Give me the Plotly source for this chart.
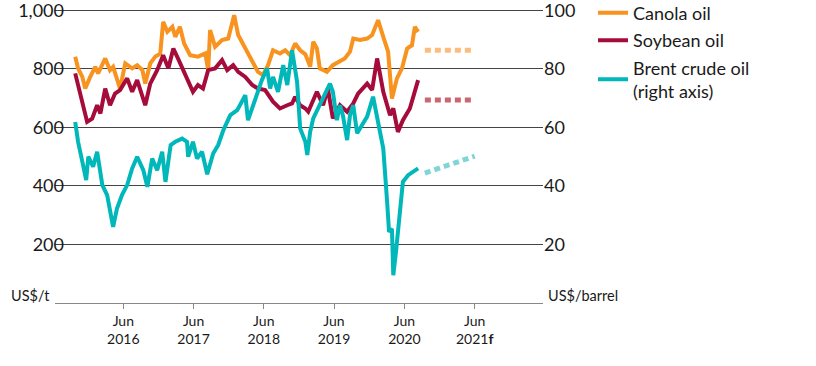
import plotly.graph_objects as go

# ---------------- data ----------------
canola_dates = ["2015-09-25", "2015-10-10", "2015-11-01", "2015-11-16", "2015-12-12", "2016-01-07",
                "2016-01-22", "2016-02-28", "2016-03-24", "2016-04-09", "2016-05-15", "2016-06-11",
                "2016-07-17", "2016-08-12", "2016-09-08", "2016-09-23", "2016-10-19", "2016-11-14",
                "2016-12-10", "2016-12-25", "2017-01-16", "2017-02-11", "2017-02-26", "2017-03-22",
                "2017-04-13", "2017-05-14", "2017-06-24", "2017-08-01",
                "2017-08-16", "2017-08-26", "2017-09-21", "2017-10-27", "2017-11-28", "2017-12-29",
                "2018-01-19", "2018-02-25", "2018-04-02", "2018-05-02", "2018-05-27", "2018-06-23",
                "2018-07-19", "2018-08-24", "2018-09-20", "2018-10-16", "2018-11-11", "2018-12-07",
                "2019-01-03", "2019-01-28", "2019-02-13", "2019-03-04", "2019-03-19", "2019-04-25",
                "2019-05-26", "2019-07-02", "2019-07-27", "2019-08-23", "2019-09-09", "2019-10-14",
                "2019-11-20", "2019-12-16", "2020-01-16", "2020-02-12", "2020-03-08", "2020-03-28",
                "2020-04-23", "2020-05-19", "2020-06-15", "2020-07-10", "2020-07-25", "2020-08-11"]
canola_vals = [842, 802, 773, 733, 773, 807,
               785, 836, 796, 807, 733, 819,
               802, 813, 796, 750, 819, 842,
               853, 961, 927, 944, 910, 944,
               887, 847, 842, 853,
               796, 933, 876, 899, 904, 984,
               916, 870, 825, 790, 779, 813,
               864, 853, 864, 847, 887, 864,
               850, 808, 893, 870, 802, 790,
               813, 825, 836, 859, 904, 899,
               904, 916, 967, 910, 859, 699,
               768, 802, 870, 881, 944, 927]

soy_dates = ["2015-09-25", "2015-10-20", "2015-11-26", "2015-12-22", "2016-01-17", "2016-02-03",
             "2016-02-28", "2016-03-24", "2016-04-19", "2016-05-15", "2016-06-21", "2016-07-17",
             "2016-08-12", "2016-09-23", "2016-10-19", "2016-11-24", "2016-12-25", "2017-01-21",
             "2017-02-16", "2017-03-12", "2017-04-18", "2017-05-29", "2017-06-24", "2017-07-20",
             "2017-08-16", "2017-09-21", "2017-10-27", "2017-11-23", "2017-12-24", "2018-01-19",
             "2018-02-25", "2018-04-02", "2018-05-02", "2018-06-08", "2018-07-19", "2018-08-24",
             "2018-10-01", "2018-10-26", "2018-11-11", "2018-12-07", "2019-01-03", "2019-01-18",
             "2019-03-04", "2019-04-05", "2019-04-30", "2019-05-26", "2019-07-02", "2019-08-08",
             "2019-09-09", "2019-10-04", "2019-11-20", "2019-12-16", "2020-01-11", "2020-02-12",
             "2020-03-18", "2020-04-04", "2020-04-28", "2020-05-24", "2020-06-29", "2020-07-25",
             "2020-08-11"]
soy_vals = [785, 722, 619, 630, 676, 648,
            733, 676, 716, 728, 768, 722,
            762, 676, 750, 796, 847, 802,
            870, 836, 780, 722, 745, 733,
            796, 802, 830, 796, 813, 790,
            773, 745, 733, 728, 688, 665,
            676, 682, 705, 676, 665, 654,
            722, 676, 733, 631, 676, 654,
            682, 716, 750, 728, 836, 722,
            642, 665, 585, 625, 665, 722,
            762]

brent_dates = ["2015-09-25", "2015-10-10", "2015-11-01", "2015-11-21", "2015-12-02", "2015-12-27",
               "2016-01-17", "2016-02-13", "2016-03-09", "2016-04-09", "2016-04-29", "2016-05-25",
               "2016-06-21", "2016-07-17", "2016-08-12", "2016-09-13", "2016-10-04", "2016-10-29",
               "2016-11-24", "2016-12-20", "2017-01-06", "2017-02-02", "2017-02-26", "2017-04-03",
               "2017-04-28", "2017-05-04", "2017-05-29", "2017-06-19", "2017-07-15", "2017-08-11",
               "2017-09-11", "2017-10-07", "2017-11-03", "2017-12-09", "2018-01-14", "2018-02-25",
               "2018-03-11", "2018-04-16", "2018-05-22", "2018-06-18", "2018-07-04", "2018-07-19",
               "2018-08-14", "2018-09-10", "2018-10-01", "2018-10-26", "2018-11-21", "2018-12-07",
               "2019-01-03", "2019-01-13", "2019-01-28", "2019-02-13", "2019-03-19", "2019-04-25",
               "2019-05-11", "2019-05-26", "2019-06-16", "2019-07-02", "2019-07-17", "2019-08-08",
               "2019-08-23", "2019-09-09", "2019-09-29", "2019-10-24", "2019-11-20", "2019-12-21",
               "2020-01-11", "2020-01-26", "2020-02-12", "2020-03-03", "2020-03-13", "2020-03-28",
               "2020-04-04", "2020-04-18", "2020-05-09", "2020-05-24", "2020-06-20", "2020-07-15",
               "2020-08-11"]
brent_vals = [61.9, 55.1, 48.3, 42.0, 50.0, 46.6,
              51.7, 40.3, 36.9, 26.0, 32.3, 36.9,
              40.3, 46.0, 50.0, 45.4, 39.7, 49.4,
              45.4, 51.7, 41.4, 54.0, 55.1, 56.2,
              55.1, 50.0, 55.1, 49.4, 51.7, 44.0,
              51.1, 54.0, 59.1, 64.2, 65.9, 71.0,
              62.5, 69.3, 76.2, 80.2, 73.3, 77.3,
              72.2, 81.3, 74.5, 86.4, 75.6, 59.7,
              55.1, 50.6, 58.5, 63.1, 67.6, 72.2,
              75.0, 72.2, 62.5, 67.6, 64.2, 55.7,
              64.2, 67.6, 58.0, 60.8, 63.7, 70.5,
              63.1, 58.5, 52.8, 34.6, 24.3, 25.4,
              9.5, 17.5, 33.5, 41.4, 43.7, 44.8,
              46.0]

forecast_dates = ["2020-09-15", "2020-12-15", "2021-03-15", "2021-06-01"]
canola_fc = [864, 864, 864, 864]
soy_fc = [694, 694, 694, 694]
brent_fc = [44.4, 46.3, 48.3, 50.2]

tick_dates = ["2016-06-01", "2017-06-01", "2018-06-01", "2019-06-01", "2020-06-01", "2021-06-01"]
tick_labels = ["Jun<br>2016", "Jun<br>2017", "Jun<br>2018", "Jun<br>2019", "Jun<br>2020", "Jun<br>2021<b>f</b>"]
left_ticks = [200, 400, 600, 800, 1000]
left_labels = ["200", "400", "600", "800", "1,000"]
right_ticks = [20, 40, 60, 80, 100]
right_labels = ["20", "40", "60", "80", "100"]

# ---------------- styling ----------------
ORANGE = "#F7931E"
CRIMSON = "#A50B3B"
TEAL = "#00B7B9"
ORANGE_FC = "#FBBD7E"
CRIMSON_FC = "#CB6670"
TEAL_FC = "#80D5D6"
FONT = "Lato"
LW = 4

fig = go.Figure()
fig.add_trace(go.Scatter(x=canola_dates, y=canola_vals, name="Canola oil", mode="lines",
                         line=dict(color=ORANGE, width=LW), legendgroup="c"))
fig.add_trace(go.Scatter(x=soy_dates, y=soy_vals, name="Soybean oil", mode="lines",
                         line=dict(color=CRIMSON, width=LW), legendgroup="s"))
fig.add_trace(go.Scatter(x=brent_dates, y=brent_vals, name="Brent crude oil<br>(right axis)",
                         mode="lines", yaxis="y2", line=dict(color=TEAL, width=LW), legendgroup="b"))
fig.add_trace(go.Scatter(x=forecast_dates, y=canola_fc, mode="lines", showlegend=False,
                         line=dict(color=ORANGE_FC, width=5, dash="6px,4px")))
fig.add_trace(go.Scatter(x=forecast_dates, y=soy_fc, mode="lines", showlegend=False,
                         line=dict(color=CRIMSON_FC, width=5, dash="6px,4px")))
fig.add_trace(go.Scatter(x=forecast_dates, y=brent_fc, mode="lines", showlegend=False, yaxis="y2",
                         line=dict(color=TEAL_FC, width=5, dash="6px,4px")))

fig.update_layout(
    width=816, height=366,
    margin=dict(l=55, r=273, t=8.5, b=63, autoexpand=False),
    paper_bgcolor="white", plot_bgcolor="white",
    font=dict(family=FONT, size=17, color="#1a1a1a"),
    showlegend=True,
    legend=dict(x=1.1025, y=1.049, xanchor="left", yanchor="top",
                traceorder="grouped", tracegroupgap=1,
                font=dict(family=FONT, size=18, color="#1a1a1a"),
                bgcolor="rgba(0,0,0,0)"),
    xaxis=dict(type="date", range=["2015-06-12", "2022-05-22"],
               tickvals=tick_dates, ticktext=tick_labels,
               ticks="outside", ticklen=5, tickcolor="#888888",
               showgrid=False, zeroline=False,
               showline=True, linecolor="#888888", linewidth=1,
               tickfont=dict(family=FONT, size=14, color="#1a1a1a")),
    yaxis=dict(range=[0, 1005], tickvals=left_ticks, ticktext=left_labels,
               showgrid=True, gridcolor="#444444", gridwidth=1,
               zeroline=False, showline=False, ticks="",
               ticklabeloverflow="allow", ticklabelstandoff=-10,
               tickfont=dict(family=FONT, size=18, color="#1a1a1a")),
    yaxis2=dict(range=[0, 100.5], overlaying="y", side="right",
                tickvals=right_ticks, ticktext=right_labels,
                showgrid=False, zeroline=False, showline=False, ticks="",
                ticklabeloverflow="allow",
                tickfont=dict(family=FONT, size=18, color="#1a1a1a")),
    annotations=[
        dict(text="US$/t", xref="paper", yref="paper", x=0, y=0, xanchor="right", yanchor="bottom",
             xshift=-3, yshift=-3, showarrow=False, font=dict(family=FONT, size=14.5, color="#1a1a1a")),
        dict(text="US$/barrel", xref="paper", yref="paper", x=1, y=0, xanchor="left", yanchor="bottom",
             xshift=3, yshift=-3, showarrow=False, font=dict(family=FONT, size=14.5, color="#1a1a1a")),
    ],
)

fig.write_html("out.html", config={"displayModeBar": False},
               post_script="document.body.style.margin='0px';")
